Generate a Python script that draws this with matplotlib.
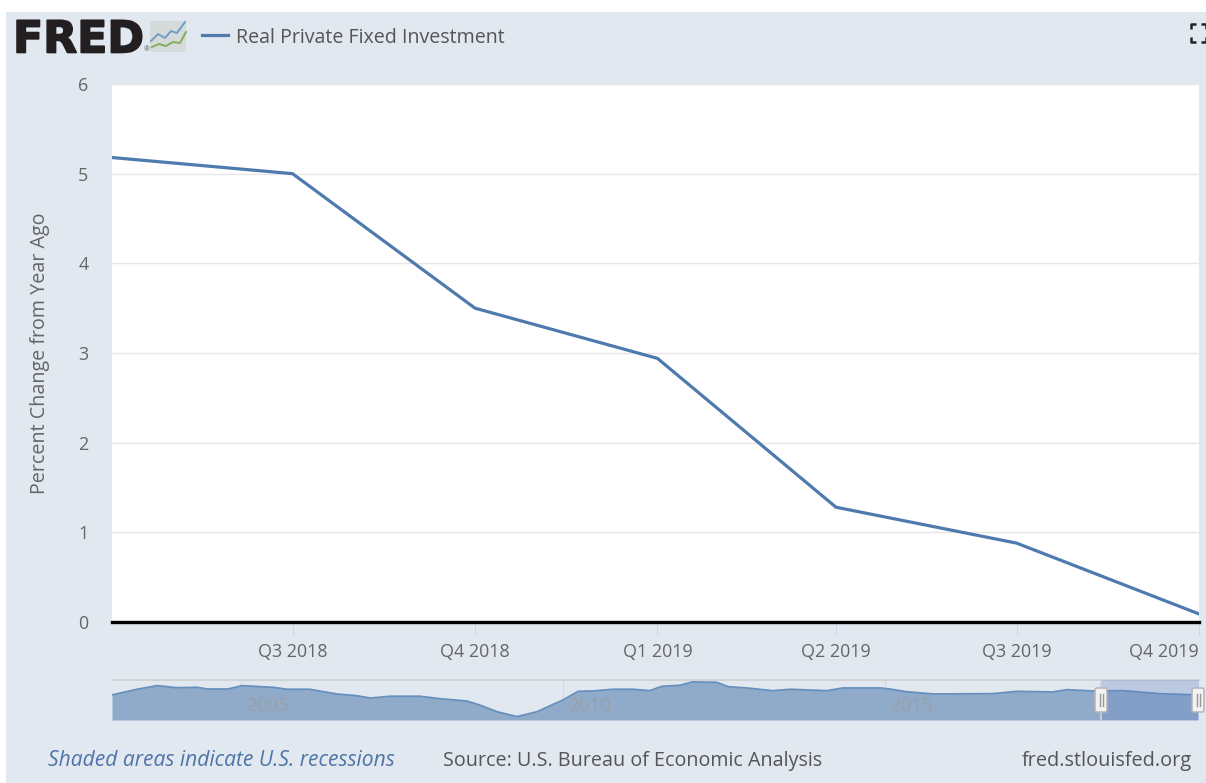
import matplotlib
matplotlib.use('Agg')
import matplotlib.pyplot as plt
import matplotlib.patheffects as pe
import pandas as pd
from matplotlib.patches import Rectangle, FancyBboxPatch

W = 1206
H = 783

# main series, percent change from year ago
quarters = ['2018-04-01', '2018-07-01', '2018-10-01', '2019-01-01', '2019-04-01', '2019-07-01', '2019-10-01']
values = [5.18, 5.00, 3.50, 2.94, 1.28, 0.88, 0.09]
yticks = [0, 1, 2, 3, 4, 5, 6]
xtick_dates = quarters[1:]
xtick_labels = ['Q3 2018', 'Q4 2018', 'Q1 2019', 'Q2 2019', 'Q3 2019', 'Q4 2019']

# navigator overview, whole history
nav_years = [2003.0, 2003.39, 2003.70, 2004.01, 2004.32, 2004.48, 2004.80, 2005.02, 2005.50, 2005.72,
             2006.07, 2006.49, 2006.80, 2007.01, 2007.32, 2007.78, 2008.09, 2008.51, 2008.71, 2008.98,
             2009.29, 2009.60, 2010.00, 2010.24, 2010.47, 2010.78, 2011.09, 2011.35, 2011.54, 2011.82,
             2012.01, 2012.39, 2012.57, 2012.86, 2013.26, 2013.53, 2014.10, 2014.35, 2014.93, 2015.08,
             2015.34, 2015.75, 2016.68, 2017.05, 2017.61, 2017.83, 2018.23, 2018.70, 2019.27, 2019.86]
nav_values = [0.4, 4.8, 7.6, 6.0, 6.3, 5.0, 5.0, 7.6, 6.3, 4.8,
              4.8, 1.15, -0.2, -2.0, -0.6, -0.6, -2.5, -4.3, -7.4, -12.6,
              -16.4, -12.6, -3.5, 3.2, 3.5, 4.8, 4.8, 3.7, 7.1, 7.9,
              10.45, 10.2, 6.8, 5.8, 3.7, 4.8, 3.7, 5.8, 5.8, 5.0,
              2.9, 1.15, 1.4, 3.2, 2.7, 4.5, 3.5, 3.7, 1.4, 0.4]
nav_grid_years = [2005, 2010, 2015]
nav_select_start = 2018.36
nav_end = 2019.88

plt.rcParams['font.family'] = ['Open Sans', 'DejaVu Sans']
bg = '#e1e8f0'
grey = '#666666'
line_blue = '#4f7aae'


def box(x0, y0, x1, y1):
    # pixel box from the top left to figure coordinates
    return [x0 / W, 1 - y1 / H, (x1 - x0) / W, (y1 - y0) / H]


fig = plt.figure(figsize=(W / 100, H / 100), dpi=100, facecolor='white')

# page background, the screenshot has a white strip on top and left
back = fig.add_axes([0, 0, 1, 1])
back.set_xlim(0, W)
back.set_ylim(H, 0)
back.axis('off')
back.add_patch(Rectangle((6, 12), W - 6, H - 12, color=bg, lw=0))

# main chart
ax = fig.add_axes(box(112, 84, 1199, 622))
dates = pd.to_datetime(quarters)
ax.plot(dates, values, color=line_blue, lw=2.3, solid_joinstyle='round', zorder=3)
ax.set_xlim(dates[0], dates[-1])
ax.set_ylim(0, 6)
ax.set_yticks(yticks)
ax.set_xticks(pd.to_datetime(xtick_dates))
ax.set_xticklabels(xtick_labels)
ax.grid(axis='y', color='#e6e6e6', lw=1)
ax.set_axisbelow(True)
for s in ['top', 'right', 'left']:
    ax.spines[s].set_visible(False)
ax.spines['bottom'].set_color('black')
ax.spines['bottom'].set_linewidth(2.4)
ax.tick_params(axis='y', length=0, pad=17, labelsize=12.9, labelcolor=grey)
ax.tick_params(axis='x', length=9, width=0.8, color='#ccd6eb', pad=6, labelsize=12.9, labelcolor=grey)
ax.get_xticklabels()[-1].set_ha('right')
ax.set_ylabel('Percent Change from Year Ago', fontsize=14.2, color=grey, labelpad=20)

# navigator
nav = fig.add_axes(box(112, 680, 1199, 720))
nav.set_facecolor('none')
for yr in nav_grid_years:
    nav.axvline(yr, color='#d3dae2', lw=0.8, zorder=1)
nav.fill_between(nav_years, nav_values, -19, color='#90abca', lw=0, zorder=2)
nav.plot(nav_years, nav_values, color='#668fbc', lw=1.3, zorder=3)
nav.set_xlim(2003.0, nav_end)
nav.set_ylim(-19, 12)
nav.set_xticks([])
nav.set_yticks([])
for s in nav.spines.values():
    s.set_visible(False)
nav.axhline(12, color='#cfd3d6', lw=1.4, clip_on=False, zorder=1)
for yr in nav_grid_years:
    nav.axvline(yr, ymax=0.5, color='#8ca8c7', lw=0.6, zorder=4)
    nav.text(yr + 0.08, -8.2, str(yr), fontsize=13.5, color='#9b9fa8', va='center', zorder=5)
nav.axvspan(nav_select_start, nav_end, color='#6685c4', alpha=0.3, lw=0, zorder=4)
nav.axvline(nav_select_start, color='#cfd3d6', lw=1.2, zorder=5)

# selection handles
top = fig.add_axes([0, 0, 1, 1])
top.set_xlim(0, W)
top.set_ylim(H, 0)
top.axis('off')
for hx in [1101, 1198]:
    top.add_patch(FancyBboxPatch((hx - 6, 688), 12, 24, boxstyle='round,pad=0,rounding_size=2',
                                 fc='#f2f2f2', ec='#b5b5b5', lw=1.1))
    top.plot([hx - 1.5, hx - 1.5], [694, 706], color='#999999', lw=1)
    top.plot([hx + 1.5, hx + 1.5], [694, 706], color='#999999', lw=1)

# header
logo = top.text(13, 40, 'FRED', fontsize=31.8, fontweight='bold', family='DejaVu Sans',
                color='#231f20', va='center', ha='left')
logo.set_path_effects([pe.withStroke(linewidth=1.2, foreground='#231f20')])
top.text(144, 50, '®', fontsize=5, color='#555555', va='center', ha='left')
top.add_patch(FancyBboxPatch((150, 21), 36, 31, boxstyle='round,pad=0,rounding_size=3', fc='#d5dadb', ec='none'))
top.plot([151, 158, 165, 171, 177, 185], [41, 34, 38, 31, 33, 22], color='#6f9ec4', lw=1.4)
top.plot([152, 159, 166, 173, 180, 186], [47, 44, 46, 42, 43, 32], color='#84ad5c', lw=1.4)
top.plot([202, 228], [35, 35], color=line_blue, lw=2.3)
top.text(236, 38, 'Real Private Fixed Investment', fontsize=14.15, color='#555555', va='center')

# fullscreen icon
for x0, y0, dx, dy in [(1191, 24, 1, 1), (1191, 42, 1, -1), (1206, 24, -1, 1), (1206, 42, -1, -1)]:
    top.plot([x0, x0, x0 + 5 * dx], [y0 + 5 * dy, y0, y0], color='#222222', lw=1.8, solid_capstyle='butt')

# footer
top.text(48, 761, 'Shaded areas indicate U.S. recessions', fontsize=15.1, style='italic', color='#4f74a8', va='center')
top.text(443, 761, 'Source: U.S. Bureau of Economic Analysis', fontsize=14.2, color='#555555', va='center')
top.text(1192, 761, 'fred.stlouisfed.org', fontsize=14.3, color='#555555', va='center', ha='right')

fig.savefig('out.png', dpi=100, facecolor='white')
